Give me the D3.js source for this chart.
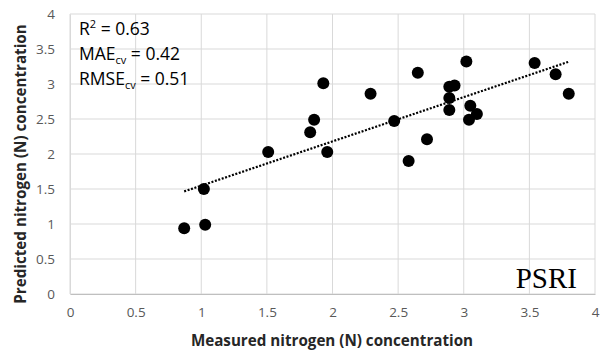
<!DOCTYPE html>
<html><head><meta charset="utf-8">
<script src="https://cdn.jsdelivr.net/npm/d3@7"></script>
<style>body{margin:0;background:#fff;}</style>
</head><body>
<svg id="c" width="600" height="354"></svg>
<script>
const measured  = [0.87,1.03,1.02,1.51,1.93,1.86,1.83,1.96,2.29,2.47,2.65,2.58,2.72,2.89,2.93,2.89,2.89,3.02,3.05,3.10,3.04,3.54,3.70,3.80];
const predicted = [0.94,0.99,1.50,2.03,3.01,2.49,2.31,2.03,2.86,2.47,3.16,1.90,2.21,2.96,2.98,2.80,2.63,3.32,2.69,2.57,2.49,3.30,3.14,2.86];
const xTicks = [0,0.5,1,1.5,2,2.5,3,3.5,4];
const yTicks = [0,0.5,1,1.5,2,2.5,3,3.5,4];

const svg = d3.select("#c");
const x = d3.scaleLinear().domain([0,4]).range([70,595]);
const y = d3.scaleLinear().domain([0,4]).range([294,14]);

// grid
svg.append("g").selectAll("line").data(xTicks).join("line")
  .attr("x1",d=>x(d)).attr("x2",d=>x(d)).attr("y1",y(0)).attr("y2",y(4))
  .attr("stroke","#d9d9d9").attr("stroke-width",1);
svg.append("g").selectAll("line").data(yTicks).join("line")
  .attr("x1",x(0)).attr("x2",x(4)).attr("y1",d=>y(d)).attr("y2",d=>y(d))
  .attr("stroke","#d9d9d9").attr("stroke-width",1);

// axes
const xa = svg.append("g").attr("transform",`translate(0,${y(0)})`)
  .call(d3.axisBottom(x).tickValues(xTicks).tickSize(0).tickPadding(13).tickFormat(d3.format("")));
const ya = svg.append("g").attr("transform",`translate(${x(0)},0)`)
  .call(d3.axisLeft(y).tickValues(yTicks).tickSize(0).tickPadding(15).tickFormat(d3.format("")));
[xa,ya].forEach(a=>{
  a.select(".domain").attr("stroke","#bfbfbf");
  a.selectAll("text").attr("fill","#595959").style("font-family","'Open Sans', sans-serif").style("font-size","13.5px");
});
ya.select(".domain").attr("stroke","#d9d9d9");

// trendline (least squares)
const n = measured.length;
const mx = d3.mean(measured), my = d3.mean(predicted);
let sxy=0,sxx=0;
for(let i=0;i<n;i++){sxy+=(measured[i]-mx)*(predicted[i]-my);sxx+=(measured[i]-mx)**2;}
const b = sxy/sxx, a0 = my-b*mx;
const [x0,x1] = d3.extent(measured);
svg.append("line").attr("x1",x(x0)).attr("y1",y(a0+b*x0)).attr("x2",x(x1)).attr("y2",y(a0+b*x1))
  .attr("stroke","#000").attr("stroke-width",2.2).attr("stroke-dasharray","2,1.6");

// points
svg.append("g").selectAll("circle").data(measured).join("circle")
  .attr("cx",d=>x(d)).attr("cy",(d,i)=>y(predicted[i])).attr("r",6).attr("fill","#000");

// stats text
const tf = "'Open Sans', sans-serif";
const fs = "17.5px", sub = "11px";
const t1 = svg.append("text").attr("x",79).attr("y",35).style("font-family",tf).style("font-size",fs).attr("fill","#000");
t1.append("tspan").text("R");
t1.append("tspan").text("2").attr("dy",-7).style("font-size",sub);
t1.append("tspan").text(" = 0.63").attr("dy",7);
const t2 = svg.append("text").attr("x",79).attr("y",60).style("font-family",tf).style("font-size",fs).attr("fill","#000");
t2.append("tspan").text("MAE");
t2.append("tspan").text("cv").attr("dy",4).style("font-size",sub);
t2.append("tspan").text(" = 0.42").attr("dy",-4);
const t3 = svg.append("text").attr("x",79).attr("y",85).style("font-family",tf).style("font-size",fs).attr("fill","#000");
t3.append("tspan").text("RMSE");
t3.append("tspan").text("cv").attr("dy",4).style("font-size",sub);
t3.append("tspan").text(" = 0.51").attr("dy",-4);

svg.append("text").attr("x",577).attr("y",288).attr("text-anchor","end")
  .style("font-family","'Liberation Serif', serif").style("font-size","29px").attr("fill","#000").text("PSRI");

// axis titles
svg.append("text").attr("x",332).attr("y",346).attr("text-anchor","middle")
  .style("font-family",tf).style("font-weight","bold").style("font-size","15.2px").attr("fill","#262626")
  .text("Measured nitrogen (N) concentration");
svg.append("text").attr("transform",`translate(26,164) rotate(-90)`).attr("text-anchor","middle")
  .style("font-family",tf).style("font-weight","bold").style("font-size","15.2px").attr("fill","#262626")
  .text("Predicted nitrogen (N) concentration");
</script>
</body></html>
